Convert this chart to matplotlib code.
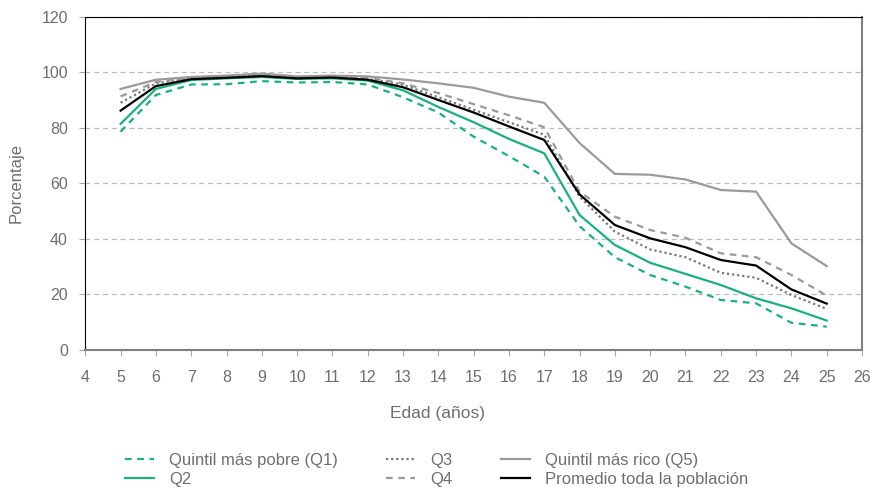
import matplotlib.pyplot as plt

edad = list(range(5, 26))

q1 = [78.6, 91.8, 95.6, 95.7, 96.8, 96.3, 96.5, 95.6, 91.0, 85.5, 76.8, 69.8, 62.4,
      44.6, 33.4, 27.0, 22.8, 18.0, 16.8, 9.8, 8.4]
q2 = [81.4, 94.0, 97.2, 97.8, 98.3, 97.6, 97.8, 97.0, 93.5, 87.5, 82.0, 76.0, 70.8,
      48.6, 37.8, 31.4, 27.4, 23.4, 18.6, 15.0, 10.6]
q3 = [89.0, 96.0, 97.8, 98.3, 98.8, 98.0, 98.3, 97.6, 95.5, 91.0, 86.5, 82.0, 77.5,
      55.2, 42.6, 36.2, 33.4, 27.8, 26.0, 19.8, 14.8]
q4 = [91.3, 96.5, 98.0, 98.5, 99.0, 98.3, 98.5, 98.0, 96.0, 92.5, 88.5, 84.5, 80.2,
      57.0, 48.0, 43.2, 40.4, 34.8, 33.4, 27.0, 19.6]
q5 = [94.0, 97.3, 98.3, 98.8, 99.5, 98.5, 98.8, 98.5, 97.4, 96.0, 94.4, 91.2, 89.0,
      74.5, 63.4, 63.1, 61.4, 57.6, 57.0, 38.4, 30.2]
promedio = [86.2, 95.0, 97.5, 98.0, 98.6, 97.8, 98.1, 97.3, 94.6, 90.0, 85.5, 80.5, 75.6,
            56.0, 45.0, 40.2, 37.0, 32.4, 30.4, 21.8, 16.7]

verde = '#1bb07f'
gris_txt = '#6e6e6e'

plt.rcParams['font.family'] = ['Liberation Sans', 'DejaVu Sans']

fig = plt.figure(figsize=(8.74, 4.88), dpi=100)
ax = fig.add_axes([0.0976, 0.2828, 0.8887, 0.683])

ax.plot(edad, q1, color=verde, lw=1.6, ls=(0, (3, 2.5)), label='Quintil más pobre (Q1)')
ax.plot(edad, q2, color=verde, lw=1.6, label='Q2')
ax.plot(edad, q3, color='#777777', lw=1.6, ls=(0, (1, 1.3)), label='Q3')
ax.plot(edad, q4, color='#999999', lw=1.6, ls=(0, (3, 2.5)), label='Q4')
ax.plot(edad, q5, color='#9a9a9a', lw=1.6, label='Quintil más rico (Q5)')
ax.plot(edad, promedio, color='black', lw=1.6, label='Promedio toda la población')

ax.set_xlim(4, 26)
ax.set_ylim(0, 120)
ax.set_xticks(range(4, 27))
ax.set_yticks(range(0, 121, 20))
ax.yaxis.grid(True, color='#bbbbbb', ls=(0, (4, 3)), lw=0.9)
ax.set_axisbelow(True)

ax.spines['left'].set_color('black')
ax.spines['top'].set_color('black')
ax.spines['bottom'].set_color('#808080')
ax.spines['right'].set_color('#808080')
ax.spines['bottom'].set_linewidth(1.5)
ax.spines['right'].set_linewidth(1.5)

ax.tick_params(axis='both', colors='#aaaaaa', labelcolor=gris_txt, labelsize=11.5, length=4.5)
ax.tick_params(axis='x', pad=10)
ax.tick_params(axis='y', pad=8)

ax.set_xlabel('Edad (años)', color=gris_txt, fontsize=12.5)
ax.xaxis.set_label_coords(0.453, -0.168)
ax.set_ylabel('Porcentaje', color=gris_txt, fontsize=12)
ax.yaxis.set_label_coords(-0.079, 0.5)

leg = ax.legend(loc='upper left', bbox_to_anchor=(0.051, -0.31), ncol=3, frameon=False,
                fontsize=12, handlelength=1.75, handletextpad=0.9, columnspacing=2.9,
                labelspacing=0.2, borderpad=0, borderaxespad=0)
for t in leg.get_texts():
    t.set_color(gris_txt)

fig.savefig('out.png', dpi=100)
